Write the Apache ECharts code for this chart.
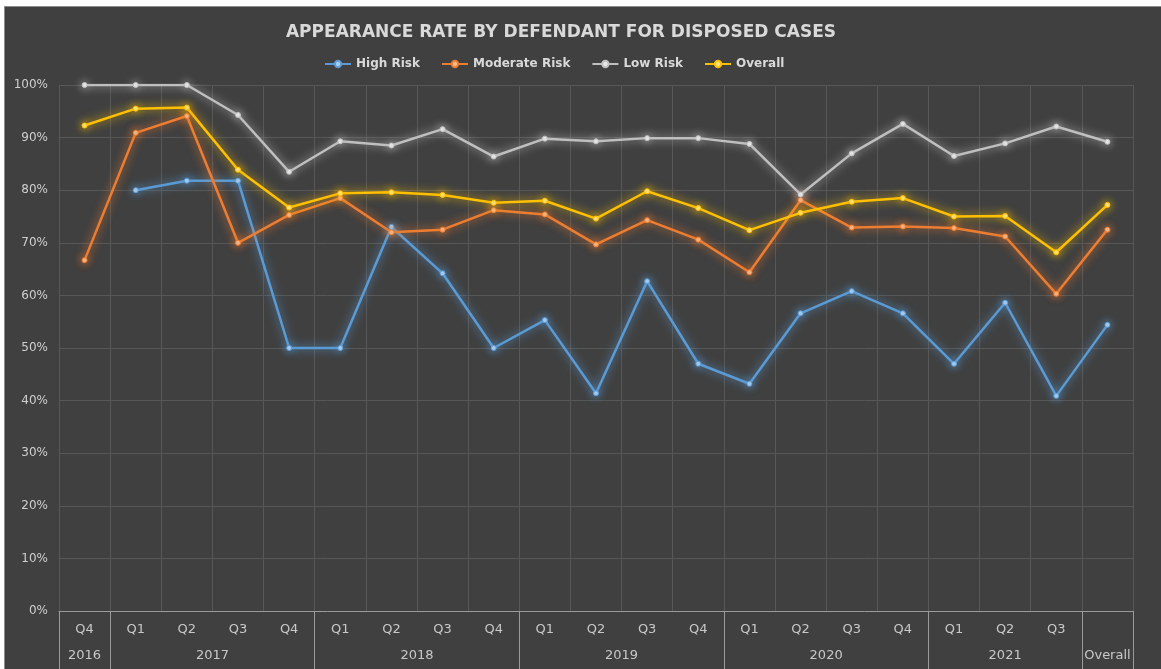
<!DOCTYPE html>
<html>
<head>
<meta charset="utf-8">
<script src="https://cdn.jsdelivr.net/npm/echarts@6/dist/echarts.min.js"></script>
<style>
  body { margin: 0; background: #ffffff; }
  #main { position: absolute; left: 4px; top: 6px; width: 1157px; height: 663px; background: #404040; border-top: 1px solid #8c8c8c; border-left: 1px solid #8c8c8c; box-sizing: border-box; }
</style>
</head>
<body>
<div id="main"></div>
<script>
// quarters along the bottom
var quarters = ['Q4', 'Q1', 'Q2', 'Q3', 'Q4', 'Q1', 'Q2', 'Q3', 'Q4', 'Q1', 'Q2', 'Q3', 'Q4', 'Q1', 'Q2', 'Q3', 'Q4', 'Q1', 'Q2', 'Q3', ''];
// year groups: label and how many quarters each covers
var years = ['2016', '2017', '2018', '2019', '2020', '2021', 'Overall'];
var yearSpans = [1, 4, 4, 4, 4, 3, 1];

var highRisk = [null, 80.0, 81.8, 81.8, 50.0, 50.0, 73.0, 64.2, 50.0, 55.3, 41.4, 62.7, 47.0, 43.2, 56.6, 60.8, 56.6, 47.0, 58.6, 40.9, 54.4];
var moderateRisk = [66.7, 90.9, 94.1, 70.0, 75.3, 78.5, 72.0, 72.5, 76.2, 75.4, 69.7, 74.3, 70.6, 64.4, 78.1, 72.9, 73.1, 72.8, 71.2, 60.3, 72.5];
var lowRisk = [100, 100, 100, 94.3, 83.5, 89.3, 88.5, 91.6, 86.4, 89.8, 89.3, 89.9, 89.9, 88.8, 79.2, 87.0, 92.6, 86.5, 88.9, 92.1, 89.2];
var overall = [92.3, 95.5, 95.7, 83.9, 76.7, 79.4, 79.6, 79.1, 77.6, 78.0, 74.6, 79.8, 76.6, 72.4, 75.7, 77.8, 78.5, 75.0, 75.1, 68.2, 77.2];

// boundaries and centres of the year groups on a 0..n value scale
var yearEdges = [0];
var yearCentres = [];
var yearAt = {};
yearSpans.forEach(function (s, i) {
  var start = yearEdges[yearEdges.length - 1];
  yearEdges.push(start + s);
  yearCentres.push(start + s / 2);
  yearAt[start + s / 2] = years[i];
});

var font = '"DejaVu Sans", sans-serif';
var myChart = echarts.init(document.getElementById('main'));

function lineSeries(name, data, color, dot) {
  return {
    name: name,
    type: 'line',
    data: data,
    xAxisIndex: 0,
    symbol: 'circle',
    symbolSize: 5,
    lineStyle: { width: 2.5, color: color, shadowBlur: 10, shadowColor: color },
    itemStyle: { color: dot, borderColor: color, borderWidth: 1, shadowBlur: 8, shadowColor: color },
    color: color
  };
}

var option = {
  backgroundColor: '#404040',
  textStyle: { fontFamily: font },
  title: {
    text: 'APPEARANCE RATE BY DEFENDANT FOR DISPOSED CASES',
    left: 551,
    textAlign: 'center',
    top: 12,
    textStyle: { color: '#d9d9d9', fontSize: 17, fontWeight: 'bold', fontFamily: font }
  },
  legend: {
    top: 46,
    left: 314,
    itemWidth: 26,
    itemHeight: 8,
    itemGap: 21,
    textStyle: { color: '#d9d9d9', fontSize: 12, fontFamily: font, fontWeight: 'bold' },
    data: ['High Risk', 'Moderate Risk', 'Low Risk', 'Overall']
  },
  grid: { left: 54, right: 28, top: 78, bottom: 58 },
  xAxis: [
    {
      type: 'category',
      data: quarters,
      boundaryGap: true,
      axisLine: { lineStyle: { color: '#9a9a9a', width: 1 } },
      axisTick: { show: false },
      axisLabel: { color: '#c8c8c8', fontSize: 13, margin: 12, fontFamily: font },
      splitLine: { show: true, lineStyle: { color: '#575757', width: 1 } }
    },
    {
      type: 'value',
      position: 'bottom',
      min: 0,
      max: quarters.length,
      axisLine: { show: false },
      splitLine: { show: false },
      axisTick: { show: true, customValues: yearEdges, length: 60, lineStyle: { color: '#9a9a9a', width: 1 } },
      axisLabel: {
        customValues: yearCentres,
        margin: 38,
        color: '#c8c8c8',
        fontSize: 13,
        fontFamily: font,
        formatter: function (v) { return yearAt[v] || ''; }
      }
    }
  ],
  yAxis: {
    type: 'value',
    min: 0,
    max: 100,
    interval: 10,
    axisLine: { show: false },
    axisTick: { show: false },
    axisLabel: { color: '#cfcfcf', fontSize: 12, margin: 11, fontFamily: font, formatter: '{value}%' },
    splitLine: { lineStyle: { color: '#575757', width: 1 } }
  },
  series: [
    lineSeries('High Risk', highRisk, '#5b9bd5', '#a9cdf0'),
    lineSeries('Moderate Risk', moderateRisk, '#ed7d31', '#f6b88a'),
    lineSeries('Low Risk', lowRisk, '#bfbfbf', '#e6e6e6'),
    lineSeries('Overall', overall, '#ffc000', '#ffe27a')
  ]
};

myChart.setOption(option);
</script>
</body>
</html>
